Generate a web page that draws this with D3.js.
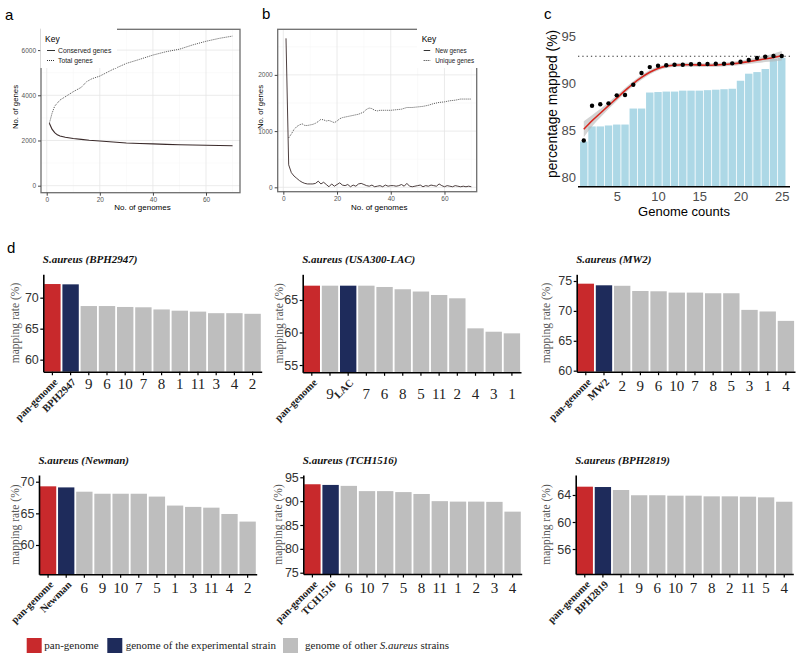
<!DOCTYPE html>
<html><head><meta charset="utf-8">
<script src="https://cdn.jsdelivr.net/npm/d3@7"></script>
<style>body{margin:0;background:#fff} svg{display:block}</style>
</head><body>
<svg id="chart" width="800" height="657"></svg>
<script>
// ---------------- DATA ----------------
// Panel a: pan-genome accumulation
const aConsX = [1,2,3,4,5,7,10,13,16,20,25,30,35,40,45,50,55,60,65,70];
const aConsY = [2760,2500,2350,2250,2200,2140,2090,2050,2010,1975,1930,1890,1870,1850,1830,1810,1800,1790,1780,1770];
const aTotX = [1,2,3,5,8,10,13,15,17,20,25,30,35,40,45,50,55,60,65,70];
const aTotY = [2760,3200,3520,3790,4010,4160,4350,4600,4730,4850,5150,5410,5590,5780,5930,6040,6230,6390,6520,6620];
const aXTicks = [0,20,40,60];
const aYTicks = [0,2000,4000,6000];

// Panel b: new / unique genes
const bNewX = d3.range(1, 71);
const bNewY = [2650,400,260,200,160,120,90,70,60,60,60,70,110,60,90,50,10,60,20,50,
               80,40,30,50,10,40,20,60,70,50,30,20,40,10,20,30,10,40,20,30,
               30,20,30,50,20,70,20,10,20,30,40,10,30,20,40,30,20,60,30,10,
               30,20,10,30,20,10,20,10,20,10];
const bUniX = [2,3,4,5,6,7,8,9,10,11,12,13,14,15,16,17,18,19,20,21,22,24,26,28,30,31,32,33,34,35,36,38,40,42,44,46,48,50,52,54,56,58,60,62,64,66,68,70];
const bUniY = [880,950,1030,1080,1110,1130,1100,1100,1110,1120,1140,1170,1210,1200,1180,1190,1170,1150,1180,1220,1240,1260,1280,1300,1340,1390,1410,1400,1370,1360,1370,1370,1370,1380,1390,1420,1420,1430,1440,1460,1490,1510,1520,1540,1550,1570,1570,1570];
const bXTicks = [0,20,40,60];
const bYTicks = [0,1000,2000];

// Panel c: percentage mapped vs genome counts
const cCounts = [1,2,3,4,5,6,7,8,9,10,11,12,13,14,15,16,17,18,19,20,21,22,23,24,25];
const cBars   = [83.8,85.4,85.4,85.5,85.6,85.6,87.3,87.3,89.0,89.05,89.1,89.1,89.2,89.2,89.2,89.25,89.3,89.35,89.4,90.25,91.0,91.17,91.5,92.56,92.67];
const cDots   = [83.9,87.6,87.75,87.85,88.7,88.74,89.83,91.07,91.7,91.85,91.89,91.95,91.95,92.0,92.03,92.03,92.06,92.06,92.1,92.27,92.45,92.66,92.8,92.88,92.88];
const cFit    = [85.1,86.0,86.8,87.6,88.4,89.2,89.95,90.6,91.15,91.55,91.8,91.9,91.95,91.95,91.92,91.9,91.92,91.97,92.05,92.15,92.28,92.42,92.57,92.72,92.9];
const cSe     = [0.85,0.6,0.45,0.36,0.3,0.28,0.26,0.25,0.24,0.22,0.2,0.2,0.2,0.2,0.2,0.2,0.2,0.21,0.22,0.23,0.25,0.28,0.33,0.42,0.5];
const cRef = 92.85;
const cXTicks = [5,10,15,20,25];
const cYTicks = [80,85,90,95];

// Panel d: mapping rates
const d1Labels = ["pan-genome","BPH2947","9","6","10","7","8","1","11","3","4","2"];
const d1Values = [72.2,72.15,68.65,68.65,68.5,68.45,68.1,67.9,67.75,67.5,67.5,67.4];
const d2Labels = ["pan-genome","9","LAC","7","6","8","5","11","2","4","3","1"];
const d2Values = [67.2,67.2,67.2,67.2,67.0,66.65,66.3,65.77,65.26,60.64,60.12,59.87];
const d3Labels = ["pan-genome","MW2","2","9","6","10","7","8","5","3","1","4"];
const d3Values = [74.55,74.28,74.2,73.33,73.28,73.06,73.06,72.95,72.95,70.17,69.9,68.33];
const d4Labels = ["pan-genome","Newman","6","9","10","7","5","1","3","11","4","2"];
const d4Values = [69.27,69.1,68.42,68.1,68.1,68.1,67.65,66.23,66.02,65.9,64.9,63.7];
const d5Labels = ["pan-genome","TCH1516","6","10","7","5","8","11","1","2","3","4"];
const d5Values = [93.54,93.4,93.2,92.1,92.1,91.9,91.5,90.0,89.9,89.9,89.85,87.8];
const d6Labels = ["pan-genome","BPH2819","1","9","6","10","7","8","2","11","5","4"];
const d6Values = [65.23,65.18,64.74,63.96,63.96,63.9,63.9,63.8,63.8,63.75,63.65,63.0];
const dTitles = ["S.aureus (BPH2947)","S.aureus (USA300-LAC)","S.aureus (MW2)","S.aureus (Newman)","S.aureus (TCH1516)","S.aureus (BPH2819)"];
const dExp = ["BPH2947","LAC","MW2","Newman","TCH1516","BPH2819"];
const dTicks = [[60,65,70],[55,60,65],[60,65,70,75],[60,65,70],[75,80,85,90,95],[56,60,64]];
const legendLabels = ["pan-genome","genome of the experimental strain","genome of other "];

// ---------------- STYLE ----------------
const SANS = "'Liberation Sans', Arial, Helvetica, sans-serif";
const SERIF = "'Liberation Serif', 'Times New Roman', serif";
const RED = "#C8292C", NAVY = "#1E2B5B", GRAY = "#BEBEBE", LBLUE = "#ADD8E6";
const svg = d3.select("#chart");

function label(t, x, y, size, opts = {}) {
  const el = svg.append("text").attr("x", x).attr("y", y).text(t)
    .attr("font-family", opts.family || SANS).attr("font-size", size)
    .attr("fill", opts.fill || "#000").attr("text-anchor", opts.anchor || "start");
  if (opts.weight) el.attr("font-weight", opts.weight);
  if (opts.style) el.attr("font-style", opts.style);
  if (opts.rotate) el.attr("transform", `rotate(${opts.rotate},${x},${y})`);
  return el;
}

// ---------------- LINE PANELS (a, b) ----------------
function linePanel(o) {
  const g = svg.append("g");
  const x = d3.scaleLinear().domain(o.xDomain).range([o.left, o.right]);
  const y = d3.scaleLinear().domain(o.yDomain).range([o.bottom, o.top]);
  const xs = o.xTicks, ys = o.yTicks;
  const xMinor = xs.map(v => v + (xs[1]-xs[0])/2).filter(v => x(v) < o.right);
  const yMinor = ys.map(v => v + (ys[1]-ys[0])/2).filter(v => y(v) > o.top);
  g.selectAll(".xmn").data(xMinor).join("line").attr("x1", d=>x(d)).attr("x2", d=>x(d)).attr("y1", o.top).attr("y2", o.bottom).attr("stroke", "#f4f4f4").attr("stroke-width", 0.5);
  g.selectAll(".ymn").data(yMinor).join("line").attr("y1", d=>y(d)).attr("y2", d=>y(d)).attr("x1", o.left).attr("x2", o.right).attr("stroke", "#f4f4f4").attr("stroke-width", 0.5);
  g.selectAll(".xmj").data(xs).join("line").attr("x1", d=>x(d)).attr("x2", d=>x(d)).attr("y1", o.top).attr("y2", o.bottom).attr("stroke", "#e6e6e6").attr("stroke-width", 0.8);
  g.selectAll(".ymj").data(ys).join("line").attr("y1", d=>y(d)).attr("y2", d=>y(d)).attr("x1", o.left).attr("x2", o.right).attr("stroke", "#e6e6e6").attr("stroke-width", 0.8);
  o.series.forEach(s => {
    const pts = s.x.map((v, i) => [v, s.y[i]]);
    g.append("path").attr("d", d3.line().x(d=>x(d[0])).y(d=>y(d[1])).curve(d3.curveLinear)(pts))
      .attr("fill", "none").attr("stroke", s.color).attr("stroke-width", s.width)
      .attr("stroke-dasharray", s.dash || null);
  });
  g.append("rect").attr("x", o.left).attr("y", o.top).attr("width", o.right-o.left).attr("height", o.bottom-o.top)
    .attr("fill", "none").attr("stroke", "#6e6e6e").attr("stroke-width", 1.3);
  const ax = g.append("g").attr("transform", `translate(0,${o.bottom})`)
    .call(d3.axisBottom(x).tickValues(xs).tickFormat(d3.format("d")).tickSize(3).tickSizeOuter(0).tickPadding(2));
  const ay = g.append("g").attr("transform", `translate(${o.left},0)`)
    .call(d3.axisLeft(y).tickValues(ys).tickFormat(d3.format("d")).tickSize(3).tickSizeOuter(0).tickPadding(2));
  [ax, ay].forEach(a => {
    a.select(".domain").remove();
    a.selectAll("line").attr("stroke", "#444");
    a.selectAll("text").attr("font-family", SANS).attr("font-size", 6.5).attr("fill", "#555");
  });
  const L = o.legend;
  g.append("rect").attr("x", L.x0).attr("y", L.y0).attr("width", L.x1-L.x0).attr("height", L.y1-L.y0).attr("fill", "#fff");
  label("Key", L.tx, 42, 8.5);
  L.items.forEach((it, i) => {
    const yy = 50.5 + i*10;
    g.append("line").attr("x1", L.tx + 2).attr("x2", L.tx + L.lineW).attr("y1", yy).attr("y2", yy)
      .attr("stroke", "#333").attr("stroke-width", 1).attr("stroke-dasharray", it.dash || null);
    label(it.text, L.tx + L.textDx, yy + 2.3, o.legendFont, {fill: "#222"});
  });
  label(o.yTitle, o.yTitleX, 107, 7.8, {anchor: "middle", rotate: -90});
  label(o.xTitle, (o.left+o.right)/2 + 2, 209.5, 8, {anchor: "middle"});
}

linePanel({
  left: 41, right: 240, top: 29.3, bottom: 192.7,
  xDomain: [-2.15, 72.8], yDomain: [-310, 6920],
  xTicks: aXTicks, yTicks: aYTicks,
  series: [
    {x: aTotX, y: aTotY, color: "#555", width: 1, dash: "1,1"},
    {x: aConsX, y: aConsY, color: "#3a2a2a", width: 1.1}
  ],
  legend: {x0: 40.4, x1: 117, y0: 18, y1: 68, tx: 45, lineW: 10, textDx: 13,
    items: [{text: "Conserved genes"}, {text: "Total genes", dash: "1,1"}]},
  legendFont: 6.8,
  yTitle: "No. of genes", yTitleX: 18, xTitle: "No. of genomes"
});

linePanel({
  left: 277.7, right: 476.7, top: 29.3, bottom: 191.7,
  xDomain: [-2.09, 72.0], yDomain: [-78, 2811],
  xTicks: bXTicks, yTicks: bYTicks,
  series: [
    {x: bUniX, y: bUniY, color: "#555", width: 1, dash: "1,1"},
    {x: bNewX, y: bNewY, color: "#3a2a2a", width: 0.9}
  ],
  legend: {x0: 417, x1: 480, y0: 18, y1: 68, tx: 421.7, lineW: 8.5, textDx: 13.5,
    items: [{text: "New genes"}, {text: "Unique genes", dash: "1,1"}]},
  legendFont: 6.3,
  yTitle: "No. of genes", yTitleX: 263, xTitle: "No. of genomes"
});

// ---------------- PANEL c ----------------
(function(){
  const left = 578, right = 790, top = 26.6, bottom = 186.7;
  const x = d3.scaleLinear().domain([0.3, 26.0]).range([left, right]);
  const y = d3.scaleLinear().domain([79, 96]).range([bottom, top]);
  const g = svg.append("g");
  g.selectAll(".cbar").data(cCounts).join("rect")
    .attr("x", d => x(d - 0.45)).attr("width", d => x(d + 0.45) - x(d - 0.45))
    .attr("y", (d, i) => y(cBars[i])).attr("height", (d, i) => bottom - y(cBars[i]))
    .attr("fill", LBLUE);
  g.append("line").attr("x1", left).attr("x2", right).attr("y1", y(cRef)).attr("y2", y(cRef))
    .attr("stroke", "#333").attr("stroke-width", 1).attr("stroke-dasharray", "1.3,3");
  const pts = cCounts.map((d, i) => ({x: d, f: cFit[i], s: cSe[i]}));
  g.append("path").attr("d", d3.area().x(d => x(d.x)).y0(d => y(d.f - d.s)).y1(d => y(d.f + d.s)).curve(d3.curveMonotoneX)(pts))
    .attr("fill", "#b5b5b5").attr("opacity", 0.6);
  g.append("path").attr("d", d3.line().x(d => x(d.x)).y(d => y(d.f)).curve(d3.curveMonotoneX)(pts))
    .attr("fill", "none").attr("stroke", "#D7261E").attr("stroke-width", 1.6);
  g.selectAll(".cdot").data(cCounts).join("circle")
    .attr("cx", d => x(d)).attr("cy", (d, i) => y(cDots[i])).attr("r", 2.2).attr("fill", "#000");
  g.append("line").attr("x1", left).attr("x2", right).attr("y1", bottom).attr("y2", bottom).attr("stroke", "#000").attr("stroke-width", 1.5);
  const ax = g.append("g").attr("transform", `translate(0,${bottom})`)
    .call(d3.axisBottom(x).tickValues(cXTicks).tickSize(0).tickPadding(5));
  const ay = g.append("g").attr("transform", `translate(${left},0)`)
    .call(d3.axisLeft(y).tickValues(cYTicks).tickSize(0).tickPadding(2));
  [ax, ay].forEach(a => {
    a.select(".domain").remove();
    a.selectAll("text").attr("font-family", SANS).attr("font-size", 13).attr("fill", "#4d4d4d");
  });
  label("percentage mapped (%)", 557, 104, 13.8, {anchor: "middle", rotate: -90});
  label("Genome counts", (left + right) / 2, 216, 13, {anchor: "middle"});
})();

// ---------------- PANEL d ----------------
const dPanels = [
  {labels: d1Labels, values: d1Values, left: 43.3, right: 261.7, top: 274.3, bottom: 371.7, dom: [58.06, 73.77], numY: 389, tOff: 28},
  {labels: d2Labels, values: d2Values, left: 302.7, right: 521, top: 274.3, bottom: 372.3, dom: [53.88, 68.95], numY: 399, tOff: 24},
  {labels: d3Labels, values: d3Values, left: 576.7, right: 795, top: 274.3, bottom: 371.7, dom: [59.83, 76.12], numY: 391, tOff: 31},
  {labels: d4Labels, values: d4Values, left: 39, right: 256.7, top: 475, bottom: 574.3, dom: [55.37, 71.06], numY: 593, tOff: 24},
  {labels: d5Labels, values: d5Values, left: 303.3, right: 521.7, top: 475, bottom: 574, dom: [74.73, 95.48], numY: 593, tOff: 25},
  {labels: d6Labels, values: d6Values, left: 575.7, right: 793.3, top: 475, bottom: 574, dom: [52.3, 66.96], numY: 593, tOff: 30}
];

dPanels.forEach((p, k) => {
  const g = svg.append("g");
  const x = d3.scaleBand().domain(p.labels).range([p.left, p.right]).paddingInner(0.1).paddingOuter(0.05);
  const y = d3.scaleLinear().domain(p.dom).range([p.bottom, p.top]);
  const col = l => l === "pan-genome" ? RED : (l === dExp[k] ? NAVY : GRAY);
  g.selectAll("rect").data(p.labels).join("rect")
    .attr("x", d => x(d)).attr("width", x.bandwidth())
    .attr("y", (d, i) => y(p.values[i])).attr("height", (d, i) => p.bottom - y(p.values[i]))
    .attr("fill", col);
  const ay = g.append("g").attr("transform", `translate(${p.left},0)`)
    .call(d3.axisLeft(y).tickValues(dTicks[k]).tickSize(3).tickSizeOuter(0).tickPadding(1.5));
  ay.select(".domain").attr("stroke", "#000").attr("stroke-width", 1.6);
  ay.selectAll(".tick line").attr("stroke", "#000").attr("stroke-width", 1.2);
  ay.selectAll("text").attr("font-family", SANS).attr("font-size", 12.5).attr("fill", "#333");
  const ax = g.append("g").attr("transform", `translate(0,${p.bottom})`)
    .call(d3.axisBottom(x).tickSize(3.5).tickSizeOuter(0).tickFormat(""));
  ax.select(".domain").attr("stroke", "#000").attr("stroke-width", 1.6);
  ax.selectAll(".tick line").attr("stroke", "#000").attr("stroke-width", 1.2);
  p.labels.forEach(l => {
    const cx = x(l) + x.bandwidth() / 2;
    if (/^\d+$/.test(l)) {
      label(l, cx, p.numY, 15, {family: SERIF, anchor: "middle", fill: "#222"});
    } else {
      label(l, cx + 6, p.bottom + 11, 10.5, {family: SERIF, anchor: "end", weight: "bold", fill: "#222", rotate: -45});
    }
  });
  label(dTitles[k], p.left - 0.5, p.top - 11, 11, {family: SERIF, weight: "bold", style: "italic", fill: "#111"});
  label("mapping rate (%)", p.left - p.tOff + 4, (p.top + p.bottom) / 2, 11.5, {family: SERIF, anchor: "middle", fill: "#555", rotate: -90});
});

// ---------------- LEGEND ----------------
const legCols = [RED, NAVY, GRAY];
const legX = [26.7, 107.3, 283];
legCols.forEach((c, i) => {
  svg.append("rect").attr("x", legX[i]).attr("y", 638).attr("width", 15).attr("height", 15).attr("fill", c);
});
label(legendLabels[0], 44.3, 648.5, 11, {family: SERIF, fill: "#222"});
label(legendLabels[1], 125.7, 648.5, 11, {family: SERIF, fill: "#222"});
const lt = label("", 305, 648.5, 11, {family: SERIF, fill: "#222"});
lt.append("tspan").text(legendLabels[2]);
lt.append("tspan").attr("font-style", "italic").text("S.aureus");
lt.append("tspan").text(" strains");

// ---------------- PANEL LETTERS ----------------
label("a", 5, 20, 15);
label("b", 262, 19, 15);
label("c", 544, 19, 15);
label("d", 7, 253, 15);
</script></body></html>
